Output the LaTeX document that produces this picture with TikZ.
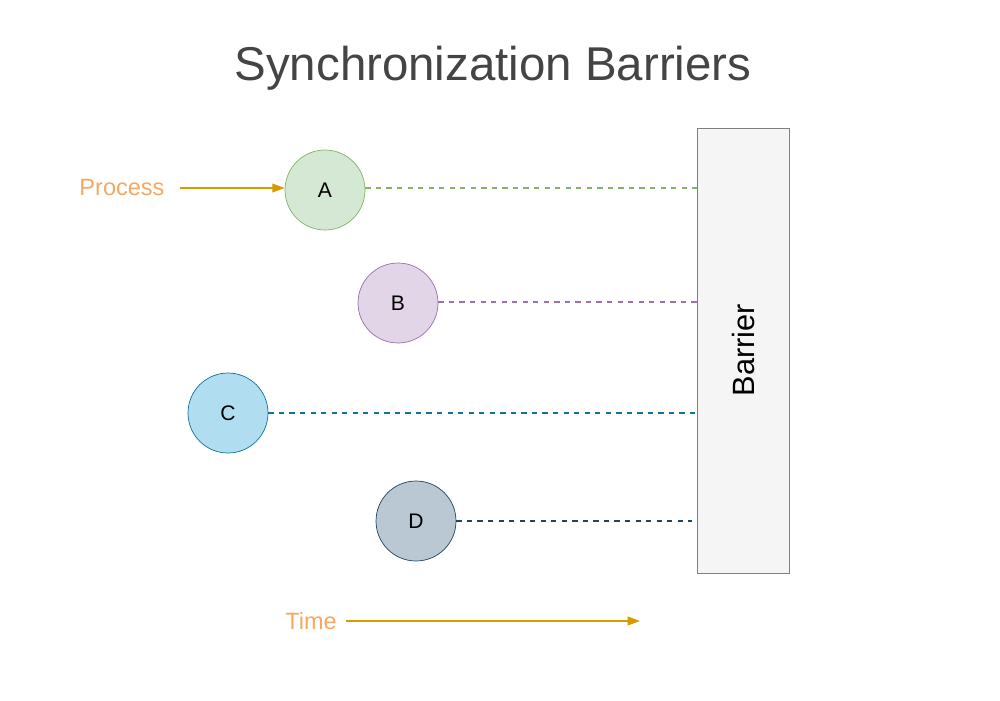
\documentclass[tikz,border=0pt]{standalone}
\usepackage{fontspec}
\setmainfont{Liberation Sans}
\usetikzlibrary{arrows.meta}
\definecolor{titlegrey}{RGB}{68,68,68}
\definecolor{greenline}{RGB}{130,179,102}
\definecolor{greenfill}{RGB}{213,232,212}
\definecolor{purpleline}{RGB}{150,115,166}
\definecolor{purplefill}{RGB}{225,213,231}
\definecolor{blueline}{RGB}{16,115,158}
\definecolor{bluefill}{RGB}{177,221,240}
\definecolor{slateline}{RGB}{35,68,93}
\definecolor{slatefill}{RGB}{186,200,211}
\definecolor{labelorange}{RGB}{245,168,98}
\definecolor{arroworange}{RGB}{215,155,0}
\begin{document}
\begin{tikzpicture}[x=0.02cm,y=-0.02cm,
    proc/.style={circle, draw, minimum size=1.6cm, inner sep=0pt, font=\fontsize{12}{14}\selectfont},
    wait/.style={dashed, line width=0.7pt},
    lbl/.style={text=labelorange, font=\fontsize{13.4}{16}\selectfont},
    time/.style={-{Stealth[length=7pt,width=5pt,inset=0pt]}, line width=0.7pt, draw=arroworange}]
        \useasboundingbox (0,0) rectangle (1000,700);

        \node[text=titlegrey, font=\fontsize{27}{32}\selectfont] (title) at (493,68) {Synchronization Barriers};

        % barrier
        \node[draw=gray, fill=gray!8, minimum width=1.84cm, minimum height=8.9cm, inner sep=0pt] (barrier) at (743,350.5) {};
        \node[rotate=90, font=\fontsize{17.5}{20}\selectfont] (blabel) at (743,350) {Barrier};

        % processes
        \node[proc, draw=greenline, fill=greenfill] (A) at (325,190) {A};
        \node[proc, draw=purpleline, fill=purplefill] (B) at (398,303) {B};
        \node[proc, draw=blueline, fill=bluefill] (C) at (228,413) {C};
        \node[proc, draw=slateline, fill=slatefill] (D) at (416,521) {D};

        \coordinate (ea) at (697,188);
        \coordinate (eb) at (697,302);
        \coordinate (ec) at (697,413);
        \coordinate (ed) at (692,521);
        \draw[wait, greenline] (A.east |- ea) -- (ea);
        \draw[wait, purpleline] (B.east |- eb) -- (eb);
        \draw[wait, blueline] (C.east) -- (ec);
        \draw[wait, slateline] (D.east) -- (ed);

        % labels
        \node[lbl] (process) at (122,188) {Process};
        \coordinate (pstart) at (180,188);
        \draw[time] (pstart) -- (A.west |- pstart);
        \node[lbl] (time) at (311,621) {Time};
        \coordinate (tstart) at (346,621);
        \coordinate (tend) at (640,621);
        \draw[time] (tstart) -- (tend);
\end{tikzpicture}
\end{document}
